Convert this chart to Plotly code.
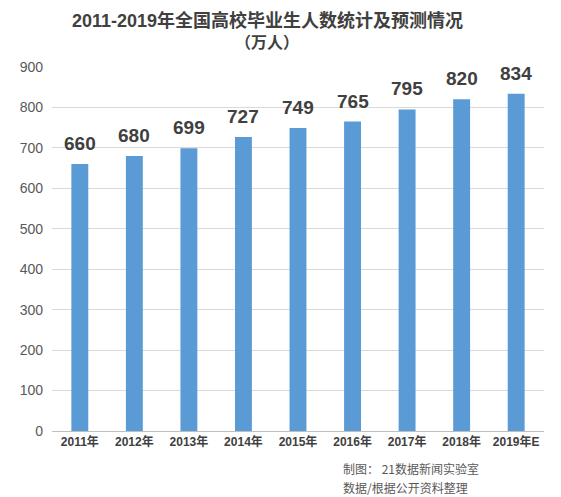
import plotly.graph_objects as go

years = ['2011年', '2012年', '2013年', '2014年', '2015年', '2016年', '2017年', '2018年', '2019年E']
graduates = [660, 680, 699, 727, 749, 765, 795, 820, 834]
y_ticks = [0, 100, 200, 300, 400, 500, 600, 700, 800, 900]

cjk = 'Liberation Sans, Noto Sans CJK SC, sans-serif'

fig = go.Figure()
fig.add_trace(go.Bar(
    x=years,
    y=graduates,
    marker=dict(color='#5B9BD5', line_width=0),
    width=0.31,
))

# value labels a little above each bar
for yr, v in zip(years, graduates):
    fig.add_annotation(
        x=yr, y=v, text='<b>%d</b>' % v,
        xanchor='center', yanchor='bottom', yshift=8, showarrow=False,
        font=dict(family=cjk, size=19, color='#404040'),
    )

# the page body has an 8px margin, so the figure is a bit smaller
fig.update_layout(
    width=553, height=489,
    margin=dict(l=44, r=17, t=59, b=66),
    plot_bgcolor='white', paper_bgcolor='white',
    showlegend=False,
    xaxis=dict(
        range=[-0.51, 8.51],
        showgrid=False,
        showline=True, linecolor='#bfbfbf', linewidth=1,
        ticks='',
        tickfont=dict(family=cjk, size=12, color='#404040', weight='bold'),
    ),
    yaxis=dict(
        range=[0, 900],
        tickvals=y_ticks,
        showgrid=True, gridcolor='#d9d9d9', gridwidth=1,
        zeroline=False,
        showline=False,
        ticks='',
        ticklabelstandoff=8,
        tickfont=dict(family=cjk, size=14, color='#595959'),
    ),
)

fig.add_annotation(
    text='<b>2011-2019年全国高校毕业生人数统计及预测情况</b>',
    xref='paper', yref='paper', x=0.438, y=1.0, yshift=47,
    xanchor='center', yanchor='middle', showarrow=False,
    font=dict(family=cjk, size=18, color='#404040'),
)
fig.add_annotation(
    text='<b>（万人）</b>',
    xref='paper', yref='paper', x=0.438, y=1.0, yshift=25,
    xanchor='center', yanchor='middle', showarrow=False,
    font=dict(family=cjk, size=16, color='#404040'),
)

fig.add_annotation(
    text='制图： 21数据新闻实验室',
    xref='paper', yref='paper', x=0.587, y=0.0, yshift=-37,
    xanchor='left', yanchor='middle', showarrow=False,
    font=dict(family='Noto Sans CJK SC, sans-serif', size=12, color='#595959'),
)
fig.add_annotation(
    text='数据/根据公开资料整理',
    xref='paper', yref='paper', x=0.587, y=0.0, yshift=-56,
    xanchor='left', yanchor='middle', showarrow=False,
    font=dict(family='Noto Sans CJK SC, sans-serif', size=12, color='#595959'),
)

fig.write_html('out.html')
